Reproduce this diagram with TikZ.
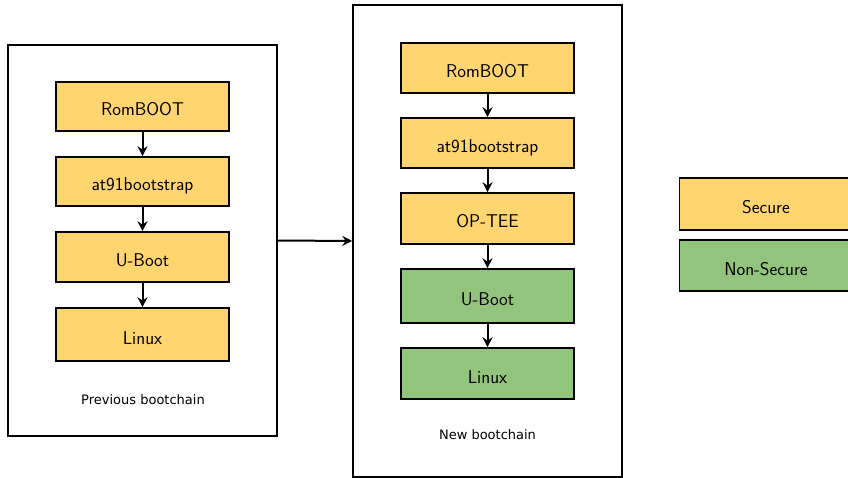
\documentclass[tikz,border=0pt]{standalone}
\usepackage{fontspec}
\usepackage{tikz}
\usetikzlibrary{arrows.meta}
\newfontfamily\capfont{DejaVu Sans}
\definecolor{secure}{HTML}{FFD56F}
\definecolor{nonsecure}{HTML}{93C47D}

\begin{document}
\begin{tikzpicture}[x=1pt, y=-1pt, line width=1.6pt,
    stage/.style={draw, minimum width=173pt, text height=19pt, text depth=0pt,
      font=\fontsize{18.5}{22}\selectfont\sffamily},
    container/.style={draw, minimum width=269pt},
    caption/.style={font=\fontsize{13}{16}\selectfont\capfont},
    link/.style={line width=2pt, -{Stealth[length=10pt,width=10pt,inset=3.5pt]}}]
    \useasboundingbox (0,0) rectangle (848,478);
    % previous bootchain
    \node[container, minimum height=391pt] (prev) at (142.5,240.5) {};
    \node[stage, fill=secure, minimum height=49pt] (romA) at (142.5,106.5) {RomBOOT};
    \node[stage, fill=secure, minimum height=49pt] (atA) at (142.5,181.5) {at91bootstrap};
    \node[stage, fill=secure, minimum height=50pt] (ubootA) at (142.5,257) {U-Boot};
    \node[stage, fill=secure, minimum height=53pt] (linuxA) at (142.5,334.5) {Linux};
    \node[caption] (capA) at (143,400) {Previous bootchain};
    \draw[link] (romA) -- (atA);
    \draw[link] (atA) -- (ubootA);
    \draw[link] (ubootA) -- (linuxA);
    % new bootchain
    \node[container, minimum height=472pt] (new) at (487.5,241) {};
    \node[stage, fill=secure, minimum height=50pt] (romB) at (487.5,68) {RomBOOT};
    \node[stage, fill=secure, minimum height=50pt] (atB) at (487.5,143) {at91bootstrap};
    \node[stage, fill=secure, minimum height=51pt] (teeB) at (487.5,218.5) {OP-TEE};
    \node[stage, fill=nonsecure, minimum height=54pt] (ubootB) at (487.5,296) {U-Boot};
    \node[stage, fill=nonsecure, minimum height=51pt] (linuxB) at (487.5,373.5) {Linux};
    \node[caption] (capB) at (487.5,435) {New bootchain};
    \draw[link] (romB) -- (atB);
    \draw[link] (atB) -- (teeB);
    \draw[link] (teeB) -- (ubootB);
    \draw[link] (ubootB) -- (linuxB);
    \draw[link] (prev.east) -- (new.west);
    % legend
    \node[stage, fill=secure, minimum height=52pt] (keyS) at (766,204) {Secure};
    \node[stage, fill=nonsecure, minimum height=51pt] (keyN) at (766,265.5) {Non-Secure};
\end{tikzpicture}
\end{document}
